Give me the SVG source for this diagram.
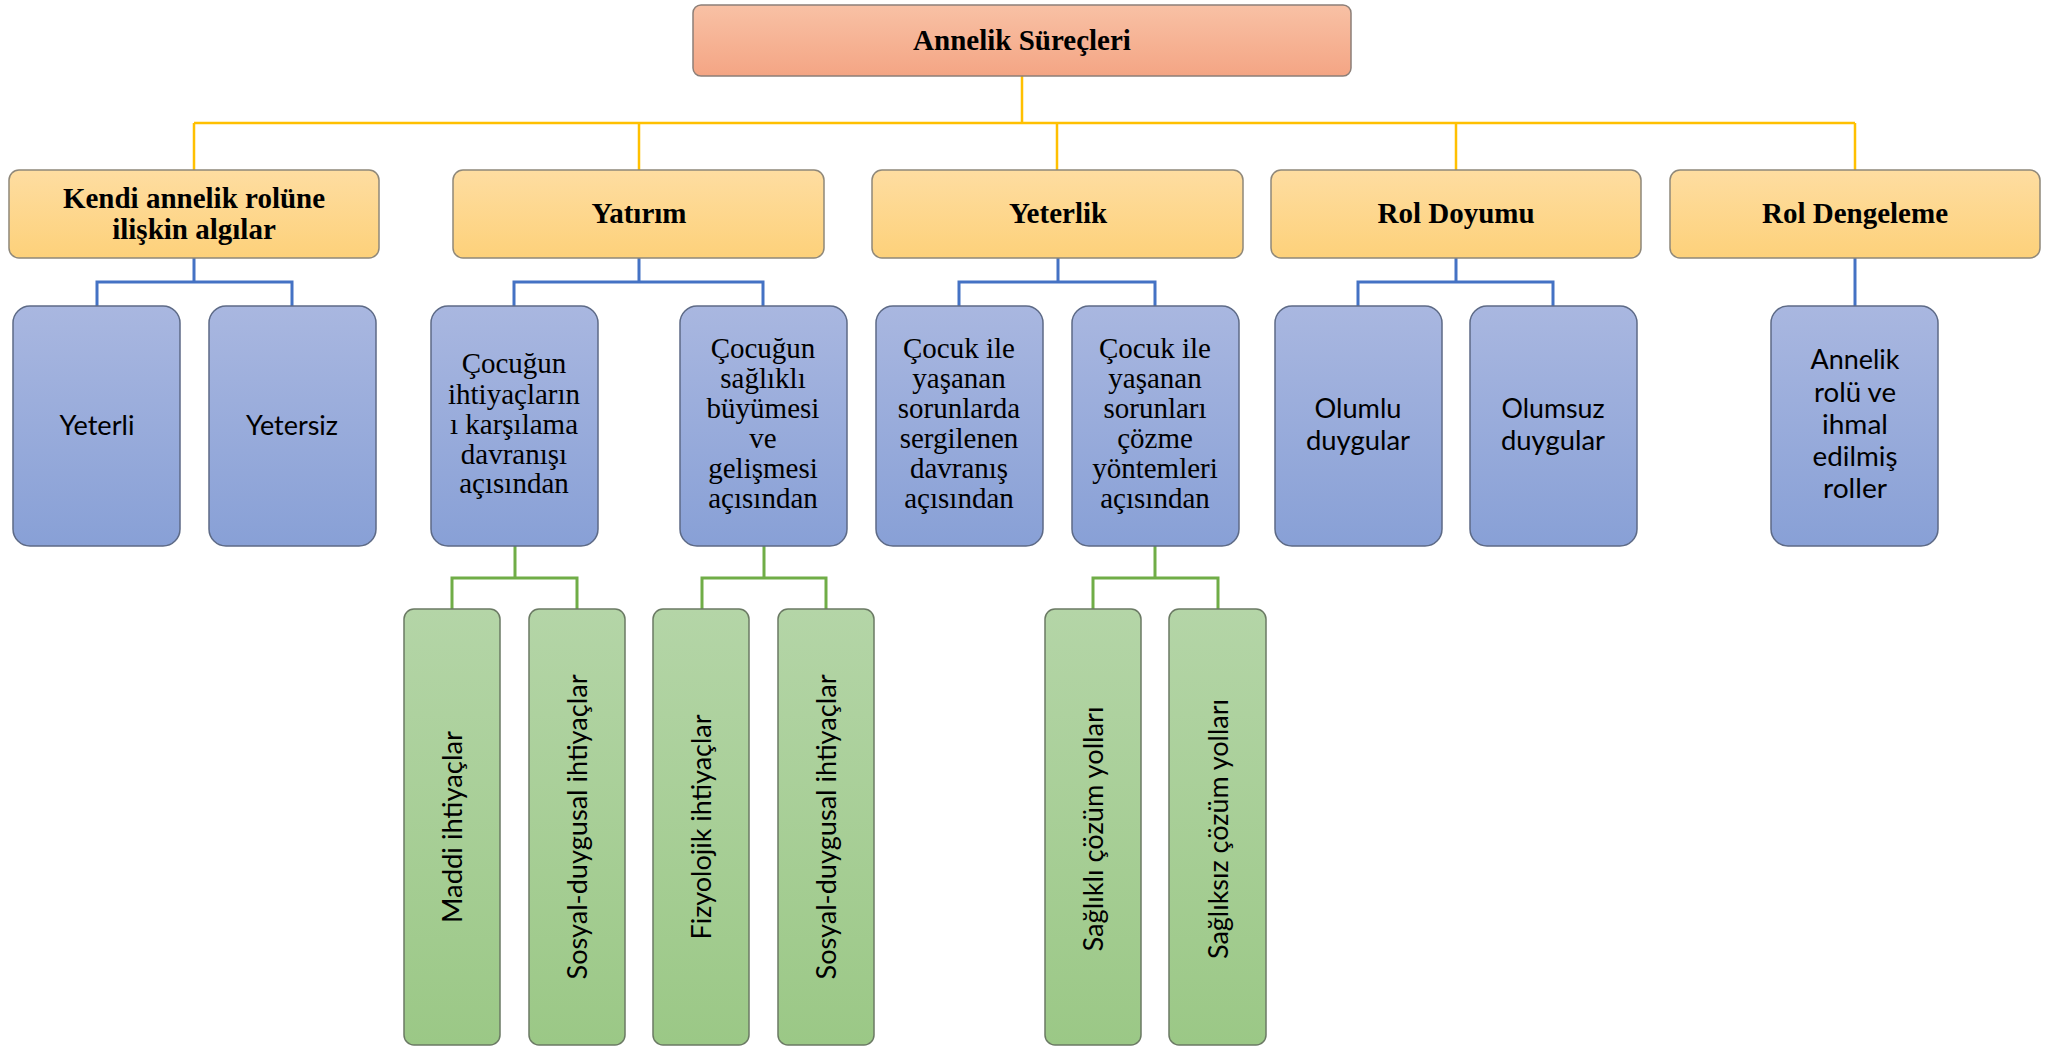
<svg xmlns="http://www.w3.org/2000/svg" width="2053" height="1046" viewBox="0 0 2053 1046">
<defs>
<linearGradient id="gTop" x1="0" y1="0" x2="0" y2="1"><stop offset="0" stop-color="#F8C1A5"/><stop offset="1" stop-color="#F4A584"/></linearGradient>
<linearGradient id="gY" x1="0" y1="0" x2="0" y2="1"><stop offset="0" stop-color="#FEDDA1"/><stop offset="1" stop-color="#FDD17A"/></linearGradient>
<linearGradient id="gB" x1="0" y1="0" x2="0" y2="1"><stop offset="0" stop-color="#A9B7E0"/><stop offset="1" stop-color="#88A0D6"/></linearGradient>
<linearGradient id="gG" x1="0" y1="0" x2="0" y2="1"><stop offset="0" stop-color="#B4D5A7"/><stop offset="1" stop-color="#9BC886"/></linearGradient>
</defs>
<style>
.top{fill:url(#gTop);stroke:#8c7f78;stroke-width:1.5}
.l1{fill:url(#gY);stroke:#8f887a;stroke-width:1.5}
.bl{fill:url(#gB);stroke:#5d6a86;stroke-width:1.5}
.gr{fill:url(#gG);stroke:#6b7a64;stroke-width:1.5}
.tb{font-family:"Liberation Serif","Times New Roman",serif;font-weight:bold;font-size:29px;fill:#000;text-anchor:middle}
.ts{font-family:"Liberation Serif","Times New Roman",serif;font-size:29px;fill:#000;text-anchor:middle}
.sn{font-family:Lato,"Liberation Sans",sans-serif;font-size:26px;fill:#000;text-anchor:middle}
.cy{stroke:#FFC000;stroke-width:2.5;fill:none}
.cb{stroke:#4472C4;stroke-width:3;fill:none}
.cg{stroke:#70AD47;stroke-width:3;fill:none}
</style>
<g id="connectors">
<path class="cy" d="M1022 76V123M194 123H1855M194 123V170M639 123V170M1057 123V170M1456 123V170M1855 123V170"/>
<path class="cb" d="M194 258V282M97 306V282H292V306"/>
<path class="cb" d="M639 258V282M514 306V282H763V306"/>
<path class="cb" d="M1058 258V282M959 306V282H1155V306"/>
<path class="cb" d="M1456 258V282M1358 306V282H1553V306"/>
<path class="cb" d="M1855 258V306"/>
<path class="cg" d="M515 546V578M452 609V578H577V609"/>
<path class="cg" d="M764 546V578M702 609V578H826V609"/>
<path class="cg" d="M1155 546V578M1093 609V578H1218V609"/>
</g>
<g id="n-root"><rect class="top" x="693" y="5" width="658" height="71" rx="8"/><text class="tb" x="1022" y="50">Annelik Süreçleri</text></g>
<g id="n-kendi"><rect class="l1" x="9" y="170" width="370" height="88" rx="10"/><text class="tb" x="194" y="208">Kendi annelik rolüne</text><text class="tb" x="194" y="239">ilişkin algılar</text></g>
<g id="n-yatirim"><rect class="l1" x="453" y="170" width="371" height="88" rx="10"/><text class="tb" x="639" y="223">Yatırım</text></g>
<g id="n-yeterlik"><rect class="l1" x="872" y="170" width="371" height="88" rx="10"/><text class="tb" x="1058" y="223">Yeterlik</text></g>
<g id="n-roldoyumu"><rect class="l1" x="1271" y="170" width="370" height="88" rx="10"/><text class="tb" x="1456" y="223">Rol Doyumu</text></g>
<g id="n-roldengeleme"><rect class="l1" x="1670" y="170" width="370" height="88" rx="10"/><text class="tb" x="1855" y="223">Rol Dengeleme</text></g>
<g id="n-yeterli"><rect class="bl" x="13" y="306" width="167" height="240" rx="17"/><text class="sn" x="97" y="435" textLength="75" lengthAdjust="spacingAndGlyphs">Yeterli</text></g>
<g id="n-yetersiz"><rect class="bl" x="209" y="306" width="167" height="240" rx="17"/><text class="sn" x="292" y="435" textLength="92" lengthAdjust="spacingAndGlyphs">Yetersiz</text></g>
<g id="n-ihtiyac"><rect class="bl" x="431" y="306" width="167" height="240" rx="17"/>
<text class="ts" x="514"><tspan x="514" y="373">Çocuğun</tspan><tspan x="514" y="404">ihtiyaçların</tspan><tspan x="514" y="434">ı karşılama</tspan><tspan x="514" y="464">davranışı</tspan><tspan x="514" y="493">açısından</tspan></text></g>
<g id="n-saglikli"><rect class="bl" x="680" y="306" width="167" height="240" rx="17"/>
<text class="ts" x="763"><tspan x="763" y="358">Çocuğun</tspan><tspan x="763" y="388">sağlıklı</tspan><tspan x="763" y="418">büyümesi</tspan><tspan x="763" y="448">ve</tspan><tspan x="763" y="478">gelişmesi</tspan><tspan x="763" y="508">açısından</tspan></text></g>
<g id="n-sergilenen"><rect class="bl" x="876" y="306" width="167" height="240" rx="17"/>
<text class="ts" x="959"><tspan x="959" y="358">Çocuk ile</tspan><tspan x="959" y="388">yaşanan</tspan><tspan x="959" y="418">sorunlarda</tspan><tspan x="959" y="448">sergilenen</tspan><tspan x="959" y="478">davranış</tspan><tspan x="959" y="508">açısından</tspan></text></g>
<g id="n-cozme"><rect class="bl" x="1072" y="306" width="167" height="240" rx="17"/>
<text class="ts" x="1155"><tspan x="1155" y="358">Çocuk ile</tspan><tspan x="1155" y="388">yaşanan</tspan><tspan x="1155" y="418">sorunları</tspan><tspan x="1155" y="448">çözme</tspan><tspan x="1155" y="478">yöntemleri</tspan><tspan x="1155" y="508">açısından</tspan></text></g>
<g id="n-olumlu"><rect class="bl" x="1275" y="306" width="167" height="240" rx="17"/>
<text class="sn" x="1358" y="418" textLength="87" lengthAdjust="spacingAndGlyphs">Olumlu</text><text class="sn" x="1358" y="450" textLength="104" lengthAdjust="spacingAndGlyphs">duygular</text></g>
<g id="n-olumsuz"><rect class="bl" x="1470" y="306" width="167" height="240" rx="17"/>
<text class="sn" x="1553" y="418" textLength="103" lengthAdjust="spacingAndGlyphs">Olumsuz</text><text class="sn" x="1553" y="450" textLength="104" lengthAdjust="spacingAndGlyphs">duygular</text></g>
<g id="n-ihmal"><rect class="bl" x="1771" y="306" width="167" height="240" rx="17"/>
<text class="sn" x="1855" y="369" textLength="89" lengthAdjust="spacingAndGlyphs">Annelik</text><text class="sn" x="1855" y="402" textLength="82" lengthAdjust="spacingAndGlyphs">rolü ve</text><text class="sn" x="1855" y="434" textLength="66" lengthAdjust="spacingAndGlyphs">ihmal</text><text class="sn" x="1855" y="466" textLength="85" lengthAdjust="spacingAndGlyphs">edilmiş</text><text class="sn" x="1855" y="498" textLength="64" lengthAdjust="spacingAndGlyphs">roller</text></g>
<g id="n-maddi"><rect class="gr" x="404" y="609" width="96" height="436" rx="10"/><text class="sn" transform="translate(452 827) rotate(-90)" y="9.5" textLength="192" lengthAdjust="spacingAndGlyphs">Maddi ihtiyaçlar</text></g>
<g id="n-sosyal1"><rect class="gr" x="529" y="609" width="96" height="436" rx="10"/><text class="sn" transform="translate(577 827) rotate(-90)" y="9.5" textLength="305" lengthAdjust="spacingAndGlyphs">Sosyal-duygusal ihtiyaçlar</text></g>
<g id="n-fizyolojik"><rect class="gr" x="653" y="609" width="96" height="436" rx="10"/><text class="sn" transform="translate(701 827) rotate(-90)" y="9.5" textLength="225" lengthAdjust="spacingAndGlyphs">Fizyolojik ihtiyaçlar</text></g>
<g id="n-sosyal2"><rect class="gr" x="778" y="609" width="96" height="436" rx="10"/><text class="sn" transform="translate(826 827) rotate(-90)" y="9.5" textLength="305" lengthAdjust="spacingAndGlyphs">Sosyal-duygusal ihtiyaçlar</text></g>
<g id="n-saglikli-cozum"><rect class="gr" x="1045" y="609" width="96" height="436" rx="10"/><text class="sn" transform="translate(1093 829) rotate(-90)" y="9.5" textLength="245" lengthAdjust="spacingAndGlyphs">Sağlıklı çözüm yolları</text></g>
<g id="n-sagliksiz-cozum"><rect class="gr" x="1169" y="609" width="97" height="436" rx="10"/><text class="sn" transform="translate(1218 829) rotate(-90)" y="9.5" textLength="260" lengthAdjust="spacingAndGlyphs">Sağlıksız çözüm yolları</text></g>
</svg>
